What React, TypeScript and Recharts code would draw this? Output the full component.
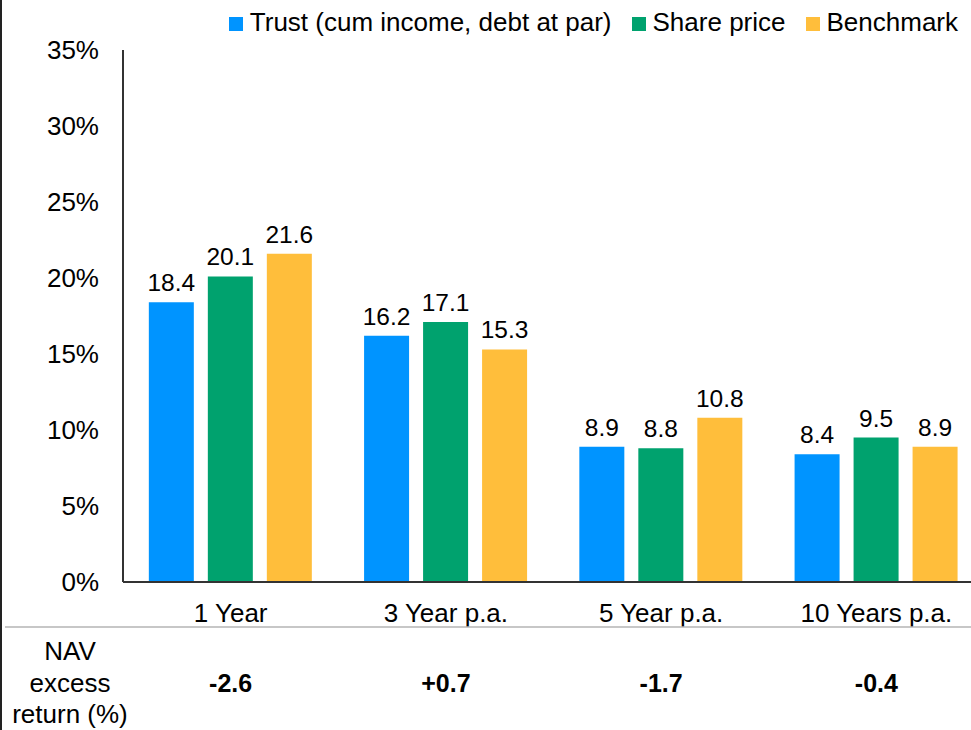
import { BarChart, Bar, XAxis, YAxis, Legend, LabelList } from 'recharts';

// categories and series values
const periods = ['1 Year', '3 Year p.a.', '5 Year p.a.', '10 Years p.a.'];
const trust = [18.4, 16.2, 8.9, 8.4];
const sharePrice = [20.1, 17.1, 8.8, 9.5];
const benchmark = [21.6, 15.3, 10.8, 8.9];
const navExcess = ['-2.6', '+0.7', '-1.7', '-0.4'];
const yTicks = [0, 5, 10, 15, 20, 25, 30, 35];

const series = [
    { key: 'trust', name: 'Trust (cum income, debt at par)', color: '#0094FF' },
    { key: 'share', name: 'Share price', color: '#00A26E' },
    { key: 'bench', name: 'Benchmark', color: '#FFBE3B' },
];

const data = periods.map((p, i) => ({
    period: p,
    trust: trust[i],
    share: sharePrice[i],
    bench: benchmark[i],
}));

const FONT = '"Liberation Sans", Arial, sans-serif';

const LegendContent = () => (
    <div
        style={{
            position: 'absolute',
            top: 7,
            right: 26,
            display: 'flex',
            whiteSpace: 'nowrap',
            fontFamily: FONT,
            fontSize: 26,
            color: '#000',
        }}
    >
        {series.map((s) => (
            <div key={s.key} style={{ display: 'flex', alignItems: 'center', marginLeft: 20 }}>
                <span style={{ width: 14, height: 14, background: s.color, marginRight: 7, marginTop: 2 }} />
                <span>{s.name}</span>
            </div>
        ))}
    </div>
);

const XTick = ({ x, y, payload }: any) => (
    <g>
        <text x={x} y={y + 40} textAnchor="middle" fontSize={26} fontFamily={FONT} fill="#000">
            {payload.value}
        </text>
        <text x={x} y={y + 110} textAnchor="middle" fontSize={25} fontWeight="bold" fontFamily={FONT} fill="#000">
            {navExcess[payload.index]}
        </text>
    </g>
);

export default function App() {
    return (
        <div
            style={{
                position: 'absolute',
                left: 0,
                top: 0,
                width: 971,
                height: 730,
                overflow: 'hidden',
                background: '#fff',
            }}
        >
            <BarChart
                width={984}
                height={730}
                data={data}
                margin={{ top: 50, right: 0, bottom: 0, left: 0 }}
                barCategoryGap="12%"
                barGap={14}
            >
                <YAxis
                    width={123}
                    domain={[0, 35]}
                    ticks={yTicks}
                    interval={0}
                    tickFormatter={(v) => `${v}%`}
                    tickLine={false}
                    tickSize={0}
                    tickMargin={24}
                    axisLine={{ stroke: '#333', strokeWidth: 2 }}
                    tick={{ fontSize: 26, fill: '#000', fontFamily: FONT }}
                />
                <XAxis
                    dataKey="period"
                    height={148}
                    interval={0}
                    tickLine={false}
                    tickSize={0}
                    tickMargin={0}
                    axisLine={{ stroke: '#333', strokeWidth: 2 }}
                    tick={<XTick />}
                />
                <Legend
                    content={<LegendContent />}
                    wrapperStyle={{ top: 0, left: 0, width: 984 }}
                />
                {series.map((s) => (
                    <Bar key={s.key} dataKey={s.key} name={s.name} fill={s.color} isAnimationActive={false}>
                        <LabelList
                            dataKey={s.key}
                            position="top"
                            offset={11}
                            fontSize={24.5}
                            fill="#000"
                            fontFamily={FONT}
                        />
                    </Bar>
                ))}
            </BarChart>
            <svg
                width={971}
                height={730}
                style={{ position: 'absolute', left: 0, top: 0, pointerEvents: 'none' }}
            >
                <line x1={1} y1={0} x2={1} y2={730} stroke="#222" strokeWidth={2} />
                <line x1={5} y1={627} x2={971} y2={627} stroke="#b5b5b5" strokeWidth={1.5} />
                <text x={70} y={660} textAnchor="middle" fontSize={26} fontFamily={FONT} fill="#000">NAV</text>
                <text x={70} y={692} textAnchor="middle" fontSize={26} fontFamily={FONT} fill="#000">excess</text>
                <text x={70} y={723} textAnchor="middle" fontSize={26} fontFamily={FONT} fill="#000">return (%)</text>
            </svg>
        </div>
    );
}
